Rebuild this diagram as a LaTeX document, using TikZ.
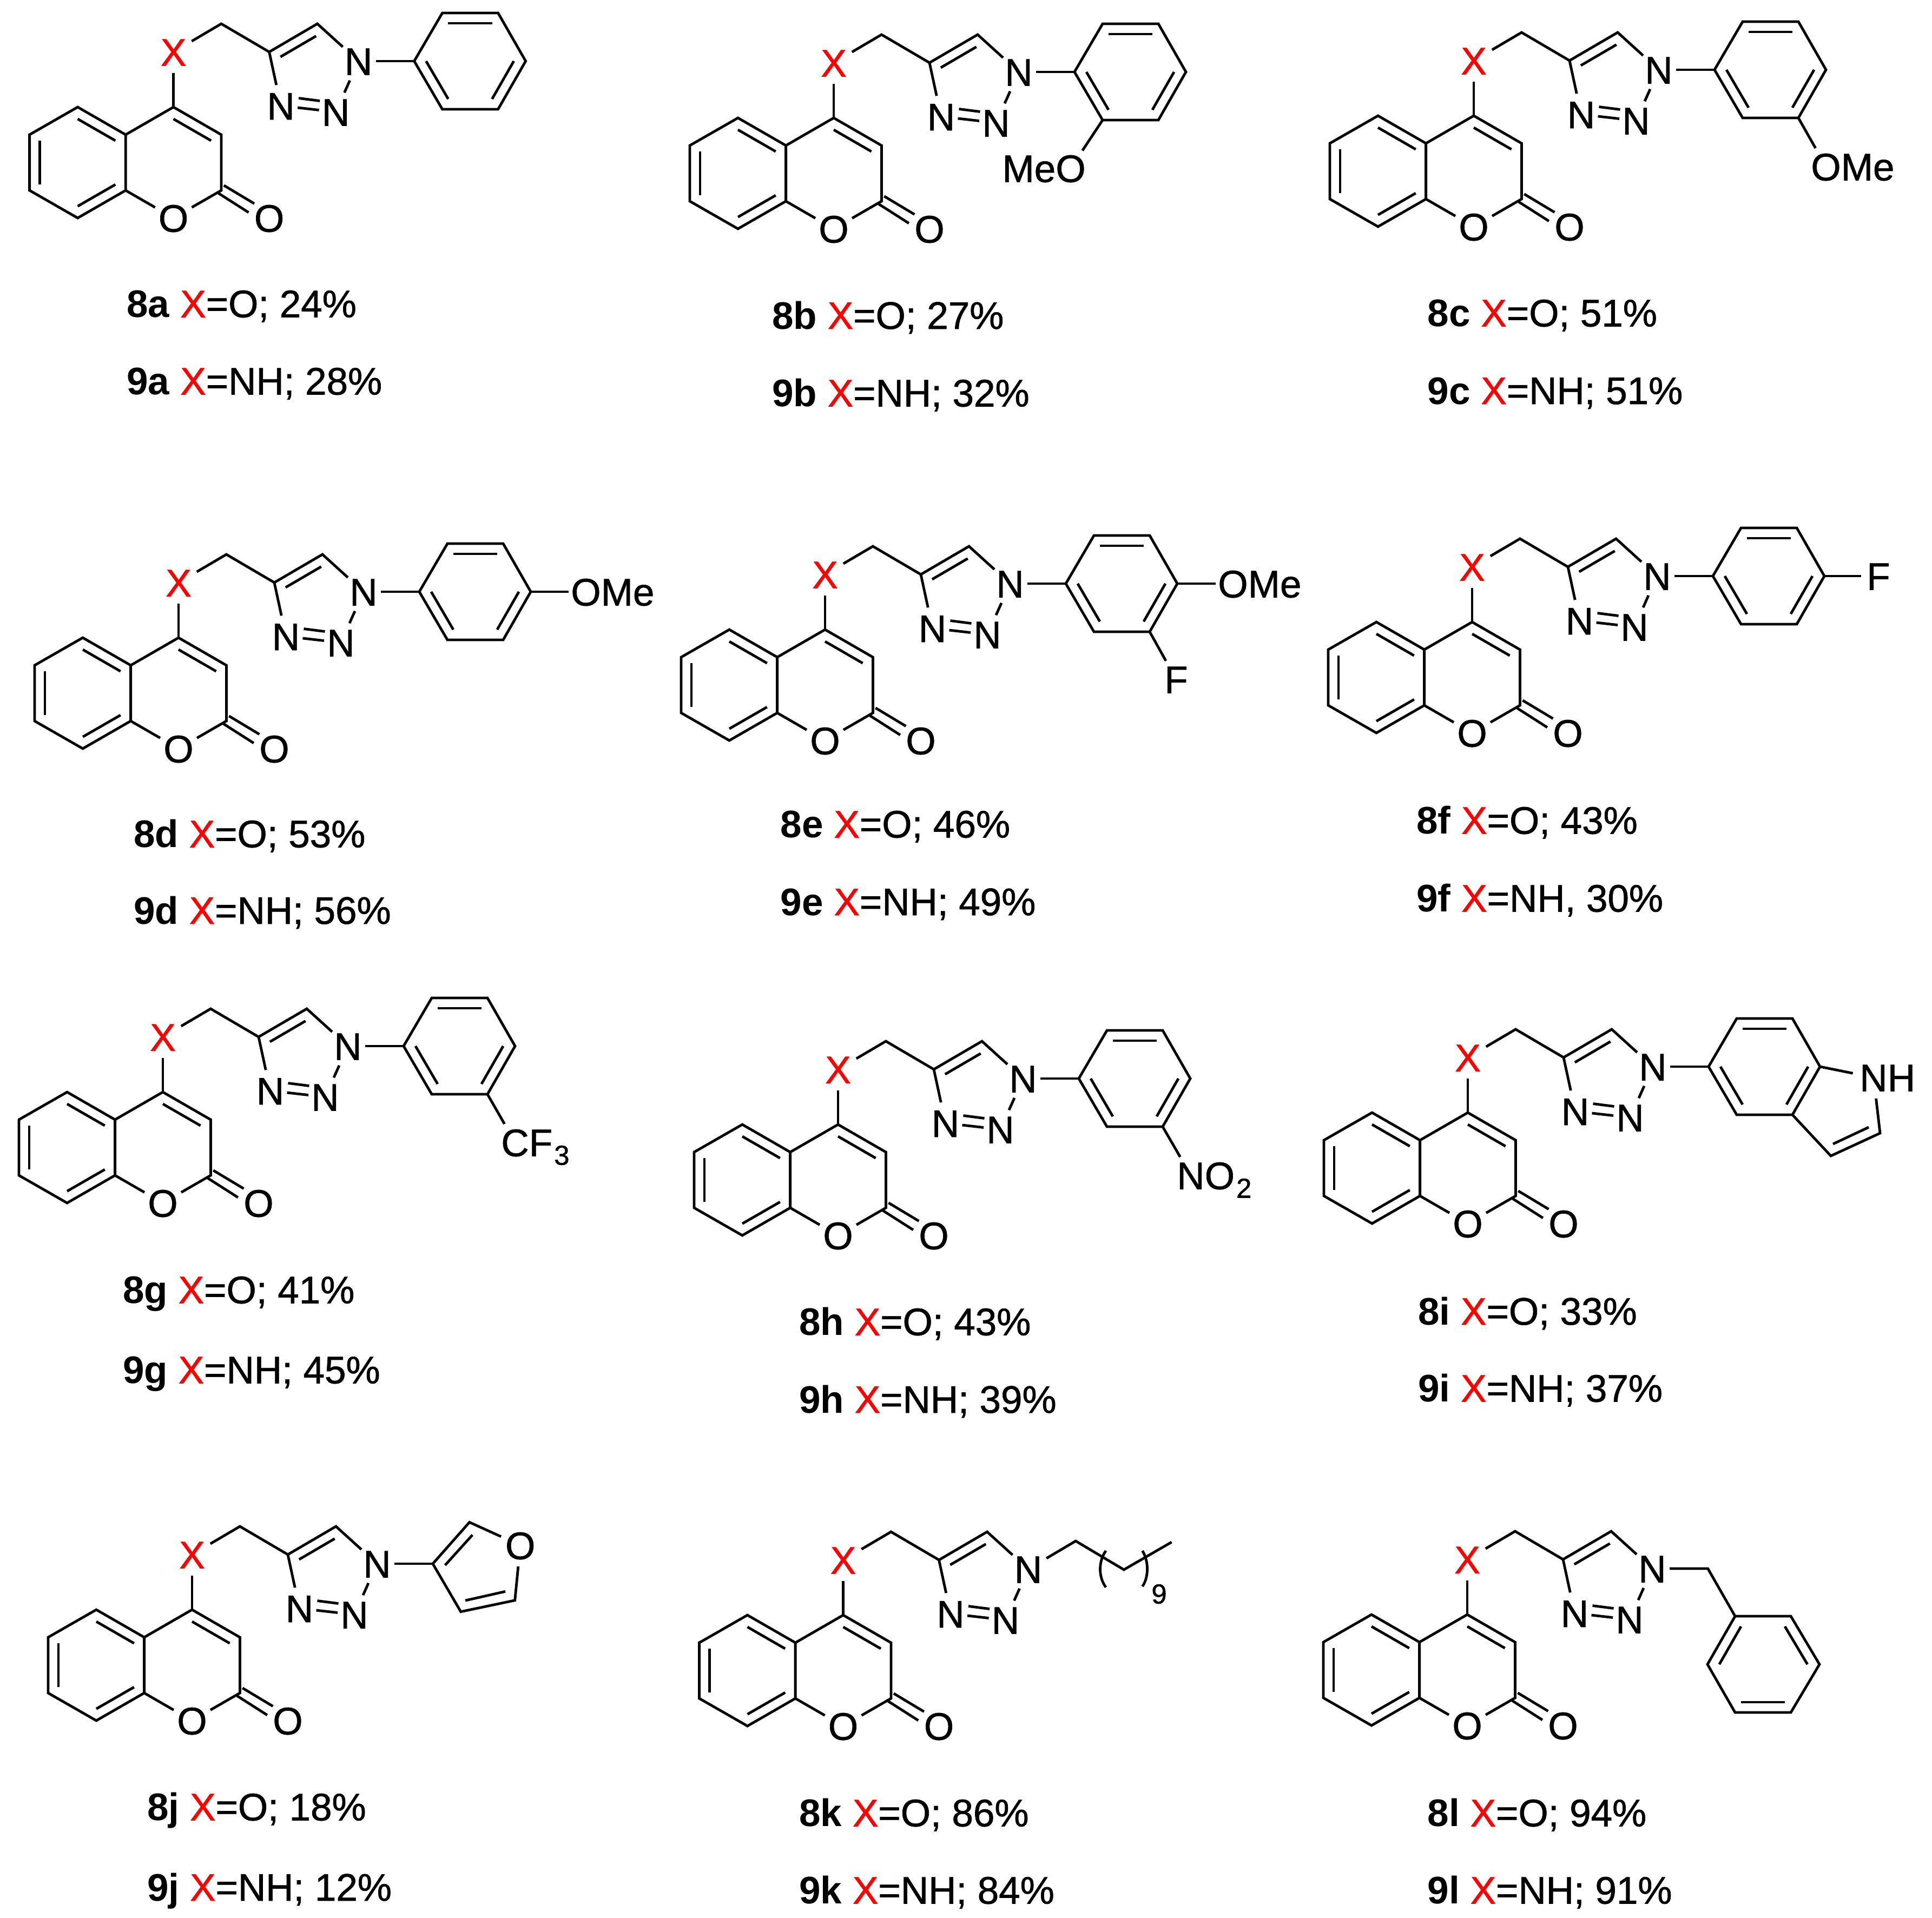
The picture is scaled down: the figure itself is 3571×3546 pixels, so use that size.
\documentclass[tikz,border=0pt]{standalone}
\usepackage{fontspec}
\setmainfont[UprightFeatures={FakeBold=1}]{Liberation Sans}
\usetikzlibrary{calc}
\newcommand{\atomfont}{\fontsize{71}{84}\selectfont}
\newcommand{\subfont}{\fontsize{51}{58}\selectfont}
\tikzset{
  bond/.style={line width=4.8pt,line join=miter,black},
  atom/.style={circle,inner sep=0pt,minimum size=78pt,font=\atomfont,text height=51pt,text depth=0pt},
  txt/.style={inner sep=0pt,font=\atomfont},
  smalltxt/.style={inner sep=0pt,font=\subfont},
  capt/.style={inner sep=0pt,anchor=base west,font=\atomfont},
  nstem/.style={bond,shorten <=-7pt},
  nostem/.style={bond,shorten <=-8pt,shorten >=-8pt}
}
\newcommand{\inb}[3]{\draw[bond] ($(#1)!.213!(#3)$) -- ($(#2)!.213!(#3)$);}
\newcommand{\coremol}{%
  \coordinate (C4) at (0,0);
  \coordinate (C3) at (88.4,51);
  \coordinate (C2) at (88.4,154);
  \coordinate (C8a) at (-88.4,154);
  \coordinate (C4a) at (-88.4,51);
  \coordinate (C5) at (-177,0);
  \coordinate (C6) at (-266,51);
  \coordinate (C7) at (-266,154);
  \coordinate (C8) at (-177,205);
  \coordinate (Cp) at (0,103);
  \coordinate (Cb) at (-177,103);
  \node[atom] (O1) at (0,205) {O};
  \node[atom] (Ox) at (177,205) {O};
  \node[atom,text=red] (X) at (0,-102) {X};
  \coordinate (CH) at (88.4,-154);
  \coordinate (T4) at (177,-102);
  \coordinate (T5) at (266,-154);
  \coordinate (Tc) at (257,-67);
  \node[atom] (N1) at (342,-85) {N};
  \node[atom] (N2) at (300,9) {N};
  \node[atom] (N3) at (198.5,-2.5) {N};
  \coordinate (nna) at (231.5,-16.5);
  \coordinate (nnb) at (270.5,-11.5);
  \coordinate (coa) at (93.3,144.8);
  \coordinate (cob) at (149.4,178.5);
  \coordinate (coc) at (82.8,159);
  \coordinate (cod) at (138.9,194.8);
  \draw[bond] (C4a)--(C5)--(C6)--(C7)--(C8)--(C8a)--cycle;
  \draw[bond] (C4a)--(C4)--(C3)--(C2)--(O1);
  \draw[bond] (C8a)--(O1);
  \draw[bond] (X)--(C4);
  \draw[bond] (X)--(CH)--(T4)--(T5)--(N1);
  \draw[bond] (T4)--(N3);
  \draw[bond] (N1)--(N2);
  \draw[nostem] (N3)--(N2);
  \draw[bond] (nna)--(nnb);
  \draw[bond] (coa)--(cob);
  \draw[bond] (coc)--(cod);
  \inb{C5}{C4a}{Cb}
  \inb{C6}{C7}{Cb}
  \inb{C8}{C8a}{Cb}
  \inb{C4}{C3}{Cp}
  \draw[bond] ($(T4)!.26!(Tc)$) -- ($(T5)!.26!(Tc)$);
}
\newcommand{\arylring}{%
  \coordinate (R1) at (445,-85);
  \coordinate (R2) at (497,-174);
  \coordinate (R3) at (600,-174);
  \coordinate (R4) at (651,-85);
  \coordinate (R5) at (600,4);
  \coordinate (R6) at (497,4);
  \coordinate (Rc) at (548,-85);
  \draw[nstem] (N1)--(R1);
  \draw[bond] (R1)--(R2)--(R3)--(R4)--(R5)--(R6)--cycle;
  \inb{R2}{R3}{Rc}
  \inb{R1}{R6}{Rc}
  \inb{R4}{R5}{Rc}
}
\newcommand{\capline}[5]{\node[capt] (#1) at (#2-1,#3-0.5) {\textbf{#4} \textcolor{red}{X}#5};}
\begin{document}
\begin{tikzpicture}[x=1pt,y=-1pt]
\useasboundingbox (0,0) rectangle (3571,3546);
% 8a
\begin{scope}[shift={(320.6,198)},name prefix=a-]
  \coremol \arylring
\end{scope}
% 8b
\begin{scope}[shift={(1541,218)},name prefix=b-]
  \coremol \arylring
  \node[atom] (OM) at (438,93) {O};
  \node[txt,anchor=base east] (Me) at ($(OM.center)+(-27.6,25.5)$) {Me};
  \draw[bond] (R6)--(OM);
\end{scope}
% 8c
\begin{scope}[shift={(2724,214)},name prefix=c-]
  \coremol \arylring
  \node[atom] (OM) at (651,94) {O};
  \node[txt,anchor=base west] (Me) at ($(OM.center)+(27.6,25.5)$) {Me};
  \draw[bond] (R5)--(OM);
\end{scope}
% 8d
\begin{scope}[shift={(330,1179)},name prefix=d-]
  \coremol \arylring
  \node[atom] (OM) at (753,-85) {O};
  \node[txt,anchor=base west] (Me) at ($(OM.center)+(27.6,25.5)$) {Me};
  \draw[nstem,shorten <=0pt,shorten >=-7pt] (R4)--(OM);
\end{scope}
% 8e
\begin{scope}[shift={(1525,1164)},name prefix=e-]
  \coremol \arylring
  \node[atom] (OM) at (754,-85) {O};
  \node[txt,anchor=base west] (Me) at ($(OM.center)+(27.6,25.5)$) {Me};
  \draw[nstem,shorten <=0pt,shorten >=-7pt] (R4)--(OM);
  \node[atom] (FF) at (649,92) {F};
  \draw[bond] (R5)--(FF);
\end{scope}
% 8f
\begin{scope}[shift={(2721,1150)},name prefix=f-]
  \coremol \arylring
  \node[atom] (FF) at (751,-85) {F};
  \draw[nstem,shorten <=0pt,shorten >=-7pt] (R4)--(FF);
\end{scope}
% 8g
\begin{scope}[shift={(301,2019)},name prefix=g-]
  \coremol \arylring
  \node[atom] (CC) at (651,93) {C};
  \node[txt,anchor=base west] (FF) at ($(CC.center)+(25.6,25.5)$) {F\kern3pt\raisebox{-16pt}{\subfont 3}};
  \draw[bond] (R5)--(CC);
\end{scope}
% 8h
\begin{scope}[shift={(1549,2079)},name prefix=h-]
  \coremol \arylring
  \node[atom] (NN) at (652,94) {N};
  \node[txt,anchor=base west] (OO) at ($(NN.center)+(25.6,25.5)$) {O\kern3pt\raisebox{-16pt}{\subfont 2}};
  \draw[bond] (R5)--(NN);
\end{scope}
% 8i
\begin{scope}[shift={(2713,2057)},name prefix=i-]
  \coremol \arylring
  \node[atom] (NH) at (750,-65) {N};
  \node[txt,anchor=base west] (HH) at ($(NH.center)+(25.6,25.5)$) {H};
  \coordinate (P2) at (762,38);
  \coordinate (P3) at (671,80);
  \coordinate (Pa) at (675,58);
  \coordinate (Pb) at (741,27);
  \draw[bond] (R4)--(NH);
  \draw[bond] (NH)--(P2)--(P3)--(R5);
  \draw[bond] (Pa)--(Pb);
\end{scope}
% 8j
\begin{scope}[shift={(355,2976)},name prefix=j-]
  \coremol
  \coordinate (F1) at (445,-85);
  \coordinate (F2) at (512.7,-161.7);
  \node[atom] (FO) at (606.7,-119) {O};
  \coordinate (F4) at (596.7,-17.3);
  \coordinate (F5) at (496.7,3.7);
  \coordinate (Fa) at (467.7,-82.3);
  \coordinate (Fb) at (518.3,-138.3);
  \coordinate (Fc) at (505,-17);
  \coordinate (Fd) at (579,-33.7);
  \draw[nstem] (N1)--(F1);
  \draw[bond] (FO)--(F2)--(F1)--(F5)--(F4)--(FO);
  \draw[bond] (Fa)--(Fb);
  \draw[bond] (Fc)--(Fd);
\end{scope}
% 8k
\begin{scope}[shift={(1558.5,2986)},name prefix=k-]
  \coremol
  \coordinate (A1) at (429.7,-137);
  \coordinate (A2) at (518.8,-84);
  \coordinate (A3) at (607,-135);
  \draw[bond] (N1)--(A1)--(A2)--(A3);
  \coordinate (La) at (485.6,-119);
  \coordinate (Lb) at (471.5,-100);
  \coordinate (Lc) at (471.5,-70);
  \coordinate (Ld) at (485.6,-51.4);
  \coordinate (Ra) at (553,-119);
  \coordinate (Rb) at (565,-100);
  \coordinate (Rc) at (565,-70);
  \coordinate (Rd) at (553,-53);
  \draw[bond] (La) .. controls (Lb) and (Lc) .. (Ld);
  \draw[bond] (Ra) .. controls (Rb) and (Rc) .. (Rd);
  \node[smalltxt] (nine) at (584,-39) {9};
\end{scope}
% 8l
\begin{scope}[shift={(2712,2985)},name prefix=l-]
  \coremol
  \coordinate (CB) at (444.7,-85);
  \coordinate (B0) at (495,3);
  \coordinate (B1) at (598,3);
  \coordinate (B2) at (651,92);
  \coordinate (B3) at (598,181);
  \coordinate (B4) at (495,181);
  \coordinate (B5) at (444,92);
  \coordinate (Bc) at (546.5,92);
  \draw[nstem] (N1)--(CB)--(B0);
  \draw[bond] (B0)--(B1)--(B2)--(B3)--(B4)--(B5)--cycle;
  \inb{B0}{B5}{Bc}
  \inb{B1}{B2}{Bc}
  \inb{B3}{B4}{Bc}
\end{scope}
% captions
\capline{c8a}{235}{587}{8a}{=O; 24\%}
\capline{c9a}{235}{730}{9a}{=NH; 28\%}
\capline{c8b}{1428}{608.5}{8b}{=O; 27\%}
\capline{c9b}{1428}{752}{9b}{=NH; 32\%}
\capline{c8c}{2639.5}{604}{8c}{=O; 51\%}
\capline{c9c}{2639.5}{747.5}{9c}{=NH; 51\%}
\capline{c8d}{248}{1567}{8d}{=O; 53\%}
\capline{c9d}{248}{1708.5}{9d}{=NH; 56\%}
\capline{c8e}{1443.6}{1549}{8e}{=O; 46\%}
\capline{c9e}{1443.6}{1692.5}{9e}{=NH; 49\%}
\capline{c8f}{2619}{1542}{8f}{=O; 43\%}
\capline{c9f}{2619}{1686}{9f}{=NH, 30\%}
\capline{c8g}{228}{2410}{8g}{=O; 41\%}
\capline{c9g}{228}{2558}{9g}{=NH; 45\%}
\capline{c8h}{1478}{2469}{8h}{=O; 43\%}
\capline{c9h}{1478}{2612.5}{9h}{=NH; 39\%}
\capline{c8i}{2622}{2449.6}{8i}{=O; 33\%}
\capline{c9i}{2622}{2592}{9i}{=NH; 37\%}
\capline{c8j}{273}{3366}{8j}{=O; 18\%}
\capline{c9j}{273}{3514.5}{9j}{=NH; 12\%}
\capline{c8k}{1478}{3377}{8k}{=O; 86\%}
\capline{c9k}{1478}{3520}{9k}{=NH; 84\%}
\capline{c8l}{2639.5}{3377}{8l}{=O; 94\%}
\capline{c9l}{2639.5}{3520}{9l}{=NH; 91\%}
\end{tikzpicture}
\end{document}
